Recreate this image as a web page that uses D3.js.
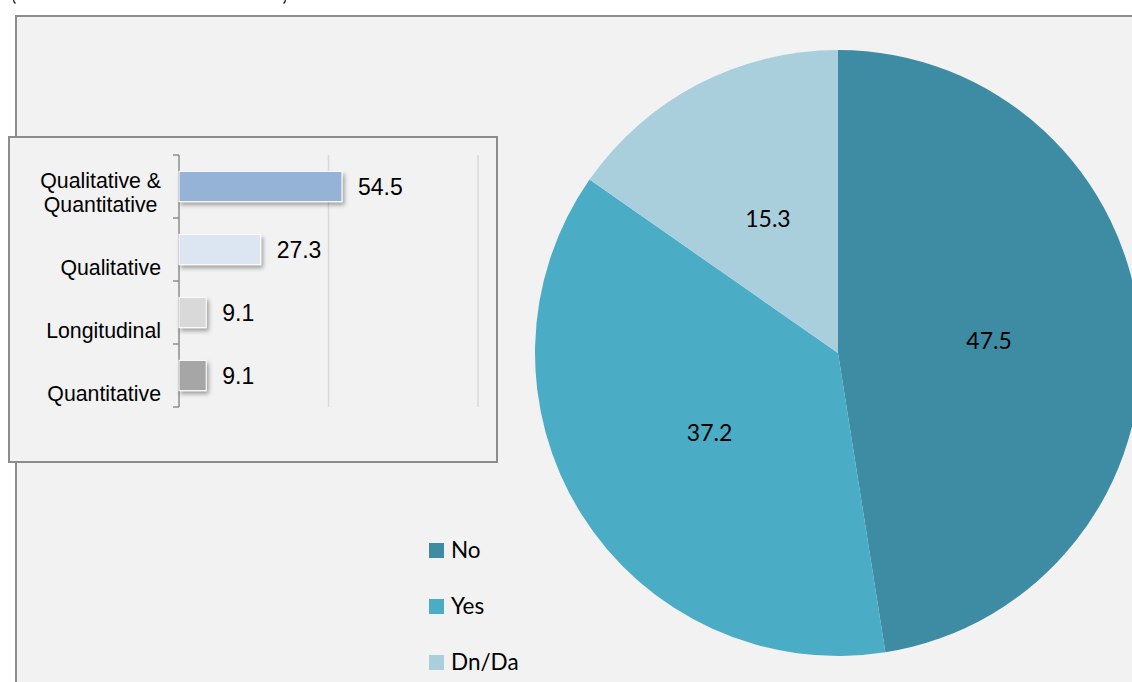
<!DOCTYPE html>
<html>
<head>
<meta charset="utf-8">
<script src="https://cdn.jsdelivr.net/npm/d3@7"></script>
<style>
  html, body { margin: 0; padding: 0; background: #ffffff; }
  svg { display: block; }
</style>
</head>
<body>
<svg id="chart" width="1132" height="682"></svg>
<script>
// Study design breakdown (bar inset)
const designCategories = ["Qualitative & Quantitative", "Qualitative", "Longitudinal", "Quantitative"];
const designLabelLines = [["Qualitative &", "Quantitative"], ["Qualitative"], ["Longitudinal"], ["Quantitative"]];
const designValues = [54.5, 27.3, 9.1, 9.1];
const designColors = ["#95b3d7", "#dce6f2", "#d9d9d9", "#a6a6a6"];
const designGridTicks = [50, 100];

// Response shares (pie)
const responseCategories = ["No", "Yes", "Dn/Da"];
const responseValues = [47.5, 37.2, 15.3];
const responseColors = ["#3d8ca3", "#4bacc6", "#a9cfdc"];

const svg = d3.select("#chart");

// Defs: soft drop shadow for the bars
const defs = svg.append("defs");
const f = defs.append("filter").attr("id", "barShadow")
  .attr("x", "-20%").attr("y", "-30%").attr("width", "150%").attr("height", "180%");
f.append("feDropShadow").attr("dx", 2).attr("dy", 3).attr("stdDeviation", 2)
  .attr("flood-color", "#000").attr("flood-opacity", 0.35);

// Bracket ends of a caption line above the frame
svg.append("path").attr("d", "M13.5,0 Q14,2.5 15.5,3.5").attr("fill", "none")
  .attr("stroke", "#222").attr("stroke-width", 1.3);
svg.append("path").attr("d", "M285.5,0 Q285,2.5 283.5,3.5").attr("fill", "none")
  .attr("stroke", "#222").attr("stroke-width", 1.3);

// Outer plot frame
svg.append("rect")
  .attr("x", 16).attr("y", 16).attr("width", 1132).attr("height", 700)
  .attr("fill", "#f2f2f2").attr("stroke", "#8c8c8c").attr("stroke-width", 2);

// ---------------- Pie ----------------
const cx = 838, cy = 353, R = 303;
const pie = d3.pie().sort(null).value(d => d.value);
const arc = d3.arc().innerRadius(0).outerRadius(R);
const pieData = pie(responseCategories.map((c, i) => ({ cat: c, value: responseValues[i], color: responseColors[i] })));

const pg = svg.append("g").attr("transform", `translate(${cx},${cy})`);
pg.selectAll("path").data(pieData).enter().append("path")
  .attr("d", arc).attr("fill", d => d.data.color);

const labelArc = d3.arc().innerRadius(R * 0.5).outerRadius(R * 0.5);
pg.selectAll("text.val").data(pieData).enter().append("text")
  .attr("class", "val")
  .attr("transform", d => {
    const [x, y] = labelArc.centroid(d);
    return `translate(${x},${y})`;
  })
  .attr("text-anchor", "middle").attr("dy", "0.35em")
  .attr("font-family", "Lato, 'Open Sans', sans-serif").attr("font-size", 23)
  .attr("fill", "#000")
  .text(d => d.data.value.toFixed(1));

// Legend
const lg = svg.append("g").attr("transform", "translate(429,550)");
const li = lg.selectAll("g").data(responseCategories).enter().append("g")
  .attr("transform", (d, i) => `translate(0,${i * 56})`);
li.append("rect").attr("x", 0).attr("y", -7).attr("width", 15).attr("height", 15)
  .attr("fill", (d, i) => responseColors[i]);
li.append("text").attr("x", 22).attr("y", 0).attr("dy", "0.36em")
  .attr("font-family", "Lato, 'Open Sans', sans-serif").attr("font-size", 22.5)
  .attr("fill", "#000").text(d => d);

// ---------------- Bar inset ----------------
svg.append("rect")
  .attr("x", 9).attr("y", 137).attr("width", 488).attr("height", 325)
  .attr("fill", "#f2f2f2").attr("stroke", "#8c8c8c").attr("stroke-width", 2);

const x = d3.scaleLinear().domain([0, 100]).range([179, 478]);
const y = d3.scaleBand().domain(designCategories).range([155, 407]).paddingInner(0.52).paddingOuter(0.26);
const band = d3.scaleBand().domain(designCategories).range([155, 407]);

const bg = svg.append("g");

// Vertical gridlines
bg.selectAll("line.grid").data(designGridTicks).enter().append("line")
  .attr("x1", d => x(d)).attr("x2", d => x(d))
  .attr("y1", 155).attr("y2", 407)
  .attr("stroke", "#d9d9d9").attr("stroke-width", 1.5);

// Category axis with outward tick marks at band boundaries
const axisG = bg.append("g");
axisG.append("line").attr("x1", x(0)).attr("x2", x(0)).attr("y1", 155).attr("y2", 407)
  .attr("stroke", "#8c8c8c").attr("stroke-width", 1.5);
const boundaries = designCategories.map(c => band(c)).concat([band.range()[1]]);
axisG.selectAll("line.tick").data(boundaries).enter().append("line")
  .attr("x1", x(0) - 6).attr("x2", x(0)).attr("y1", d => d).attr("y2", d => d)
  .attr("stroke", "#8c8c8c").attr("stroke-width", 1.5);

// Bars
bg.selectAll("rect.bar").data(designCategories).enter().append("rect")
  .attr("x", x(0)).attr("y", d => y(d))
  .attr("width", (d, i) => x(designValues[i]) - x(0))
  .attr("height", y.bandwidth())
  .attr("fill", (d, i) => designColors[i])
  .attr("stroke", "#ffffff").attr("stroke-width", 1)
  .attr("filter", "url(#barShadow)");

// Value labels
bg.selectAll("text.val").data(designCategories).enter().append("text")
  .attr("x", (d, i) => x(designValues[i]) + 16)
  .attr("y", d => y(d) + y.bandwidth() / 2 + 0.5)
  .attr("dy", "0.35em")
  .attr("font-family", "Liberation Sans, Arial, sans-serif").attr("font-size", 23)
  .attr("fill", "#000")
  .text((d, i) => designValues[i].toFixed(1));

// Category labels: the block is right aligned to the axis, and wrapped
// lines are centred within the block
const labelRight = 161;
designCategories.forEach((c, i) => {
  const lines = designLabelLines[i];
  const t = bg.append("text")
    .attr("font-family", "Liberation Sans, Arial, sans-serif").attr("font-size", 21.3)
    .attr("fill", "#000");
  const bottom = band(c) + band.bandwidth() - 6;
  const spans = lines.map((ln, j) => t.append("tspan")
    .attr("y", bottom - (lines.length - 1 - j) * 24)
    .text(ln));
  const widest = d3.max(spans, s => s.node().getComputedTextLength());
  t.attr("text-anchor", "middle");
  spans.forEach(s => s.attr("x", labelRight - widest / 2));
});
</script>
</body>
</html>
